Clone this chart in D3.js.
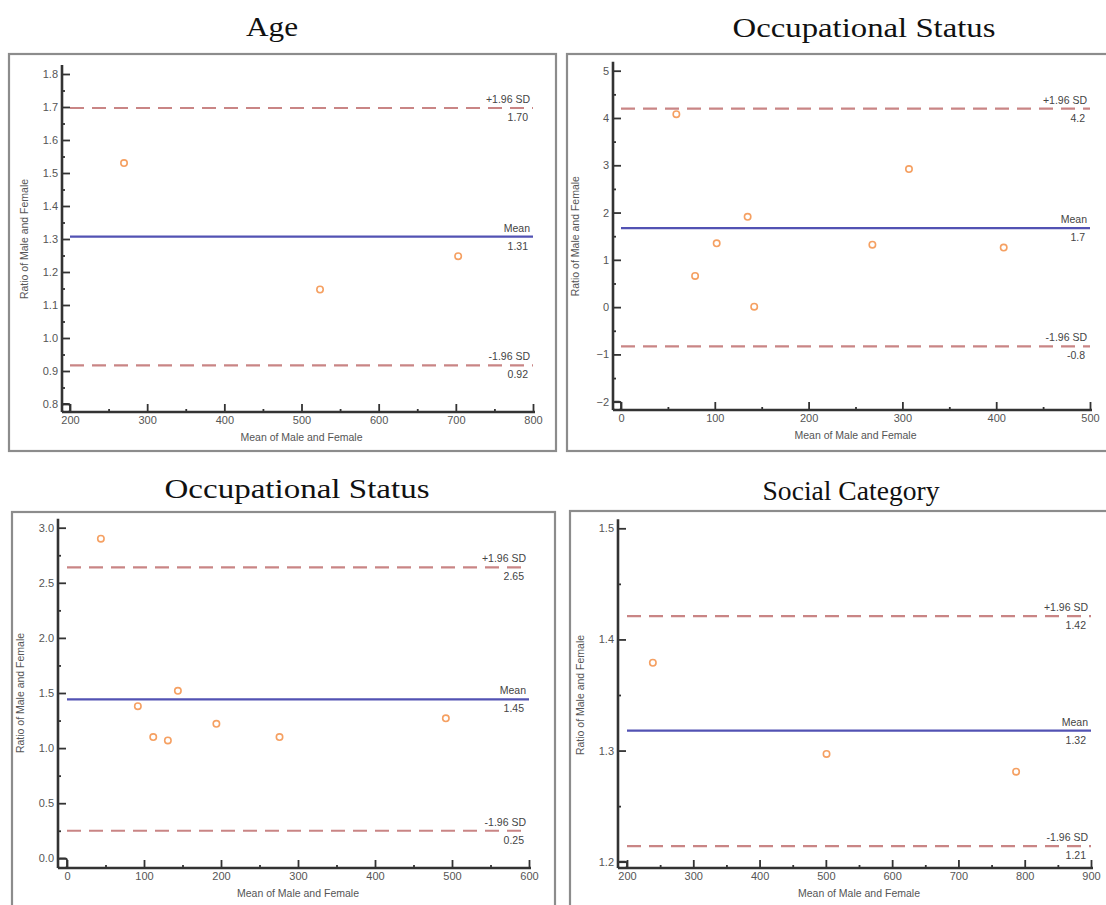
<!DOCTYPE html>
<html>
<head>
<meta charset="utf-8">
<script src="https://cdn.jsdelivr.net/npm/d3@7/dist/d3.min.js"></script>
<style>
body { margin: 0; background: #fff; }
svg text { font-family: "Liberation Sans", Arial, sans-serif; }
.ttl { font-family: "Liberation Serif", "Times New Roman", serif !important; fill: #111; }
.tick text { fill: #555; font-size: 11px; }
</style>
</head>
<body>
<svg id="chart" width="1106" height="905"></svg>
<script>
/************************** data **************************/
var titles = ["Age", "Occupational Status", "Occupational Status", "Social Category"];

var ageX = [270, 524, 703];
var ageY = [1.53, 1.147, 1.248];

var occAX = [59, 79, 102, 135, 142, 268, 307, 408];
var occAY = [4.08, 0.66, 1.35, 1.91, 0.01, 1.32, 2.92, 1.26];

var occBX = [44, 92, 112, 131, 144, 194, 276, 492];
var occBY = [2.90, 1.38, 1.10, 1.07, 1.52, 1.22, 1.10, 1.27];

var socX = [239, 501, 787];
var socY = [1.379, 1.297, 1.281];

var meanVals  = [1.307, 1.67, 1.443, 1.318];
var upperVals = [1.697, 4.2, 2.64, 1.421];
var lowerVals = [0.917, -0.83, 0.25, 1.214];
var meanLabels  = ["1.31", "1.7", "1.45", "1.32"];
var upperLabels = ["1.70", "4.2", "2.65", "1.42"];
var lowerLabels = ["0.92", "-0.8", "0.25", "1.21"];

var xTicks = [
  [200, 300, 400, 500, 600, 700, 800],
  [0, 100, 200, 300, 400, 500],
  [0, 100, 200, 300, 400, 500, 600],
  [200, 300, 400, 500, 600, 700, 800, 900]
];
var yTicks = [
  [0.8, 0.9, 1.0, 1.1, 1.2, 1.3, 1.4, 1.5, 1.6, 1.7, 1.8],
  [-2, -1, 0, 1, 2, 3, 4, 5],
  [0.0, 0.5, 1.0, 1.5, 2.0, 2.5, 3.0],
  [1.2, 1.3, 1.4, 1.5]
];
var yFormats = [".1f", "d", ".1f", ".1f"];

var xTitle = "Mean of Male and Female";
var yTitle = "Ratio of Male and Female";

/************************** layout **************************/
var layout = [
  { frame: [9, 54, 547, 397],   xr: [70, 533],  yr: [404, 74],     ax: 62,  ay: 412, tx: 272, ty: 36,  tw: 52 },
  { frame: [567, 54, 560, 397], xr: [621, 1090], yr: [401.7, 70.7], ax: 613, ay: 410, tx: 864, ty: 37,  tw: 263 },
  { frame: [12, 512, 543, 420], xr: [67, 529],  yr: [858.3, 527.7], ax: 58,  ay: 868, tx: 297, ty: 498, tw: 265 },
  { frame: [570, 511, 560, 420], xr: [627, 1091], yr: [861.7, 528.3], ax: 618, ay: 868, tx: 851, ty: 500, tw: 177 }
];

var seriesX = [ageX, occAX, occBX, socX];
var seriesY = [ageY, occAY, occBY, socY];

var svg = d3.select("#chart");

function mids(arr) {
  var out = [];
  for (var i = 0; i < arr.length - 1; i++) out.push((arr[i] + arr[i + 1]) / 2);
  return out;
}

layout.forEach(function(L, i) {
  var g = svg.append("g");
  var xt = xTicks[i], yt = yTicks[i];
  var x = d3.scaleLinear().domain([xt[0], xt[xt.length - 1]]).range(L.xr);
  var y = d3.scaleLinear().domain([yt[0], yt[yt.length - 1]]).range(L.yr);

  // frame
  g.append("rect")
    .attr("x", L.frame[0]).attr("y", L.frame[1])
    .attr("width", L.frame[2]).attr("height", L.frame[3])
    .attr("fill", "none").attr("stroke", "#8c8c8c").attr("stroke-width", 2.2);

  // title
  g.append("text").attr("class", "ttl")
    .attr("x", L.tx).attr("y", L.ty)
    .attr("text-anchor", "middle")
    .attr("font-size", 28)
    .attr("textLength", L.tw).attr("lengthAdjust", "spacingAndGlyphs")
    .text(titles[i]);

  // y axis (major + minor)
  g.append("g").attr("transform", "translate(" + L.ax + ",0)")
    .call(d3.axisLeft(y).tickValues(yt).tickSize(-8).tickPadding(4).tickFormat(d3.format(yFormats[i])));
  g.append("g").attr("transform", "translate(" + L.ax + ",0)")
    .call(d3.axisLeft(y).tickValues(mids(yt)).tickSize(-3).tickFormat(""));

  // x axis (major + minor)
  var xAx = g.append("g").attr("transform", "translate(0," + L.ay + ")")
    .call(d3.axisBottom(x).tickValues(xt).tickSize(-8).tickPadding(3).tickFormat(d3.format("d")));
  g.append("g").attr("transform", "translate(0," + L.ay + ")")
    .call(d3.axisBottom(x).tickValues(mids(xt)).tickSize(-3).tickFormat(""));

  g.selectAll(".domain").remove();
  g.selectAll(".tick line").attr("stroke", "#333").attr("stroke-width", 1.8);
  xAx.selectAll(".tick text").attr("dy", "0.85em");

  // axis lines
  g.append("line")
    .attr("x1", L.ax).attr("x2", L.ax)
    .attr("y1", L.yr[1] - 9).attr("y2", L.ay)
    .attr("stroke", "#333").attr("stroke-width", 2.6);
  g.append("line")
    .attr("x1", L.ax).attr("x2", L.xr[1] + 2)
    .attr("y1", L.ay).attr("y2", L.ay)
    .attr("stroke", "#333").attr("stroke-width", 2.6);
  // little corner box
  g.append("rect")
    .attr("x", L.ax).attr("y", L.yr[0])
    .attr("width", L.xr[0] - L.ax).attr("height", L.ay - L.yr[0])
    .attr("rx", 2)
    .attr("fill", "none").attr("stroke", "#333").attr("stroke-width", 1.8);

  // axis titles
  g.append("text")
    .attr("x", (L.xr[0] + L.xr[1]) / 2).attr("y", L.ay + 29)
    .attr("text-anchor", "middle").attr("font-size", 10.5).attr("fill", "#555")
    .text(xTitle);
  g.append("text")
    .attr("transform", "translate(" + (L.ax - 34) + "," + ((L.yr[0] + L.yr[1]) / 2) + ") rotate(-90)")
    .attr("text-anchor", "middle").attr("font-size", 10.5).attr("fill", "#555")
    .text(yTitle);

  // limit lines
  var lines = [
    { v: upperVals[i], name: "+1.96 SD", lab: upperLabels[i], col: "#c98585", dash: "14,8" },
    { v: meanVals[i],  name: "Mean",     lab: meanLabels[i],  col: "#5252b3", dash: null },
    { v: lowerVals[i], name: "-1.96 SD", lab: lowerLabels[i], col: "#c98585", dash: "14,8" }
  ];
  lines.forEach(function(l) {
    var ly = y(l.v);
    g.append("line")
      .attr("x1", L.xr[0]).attr("x2", L.xr[1])
      .attr("y1", ly).attr("y2", ly)
      .attr("stroke", l.col).attr("stroke-width", 2.2)
      .attr("stroke-dasharray", l.dash);
    g.append("text")
      .attr("x", L.xr[1] - 3).attr("y", ly - 5)
      .attr("text-anchor", "end").attr("font-size", 10.5).attr("fill", "#444")
      .text(l.name);
    g.append("text")
      .attr("x", L.xr[1] - 5).attr("y", ly + 13)
      .attr("text-anchor", "end").attr("font-size", 10.5).attr("fill", "#444")
      .text(l.lab);
  });

  // points
  g.selectAll("circle.pt")
    .data(d3.zip(seriesX[i], seriesY[i]))
    .join("circle")
    .attr("class", "pt")
    .attr("cx", function(d) { return x(d[0]); })
    .attr("cy", function(d) { return y(d[1]); })
    .attr("r", 3.2)
    .attr("fill", "#fff")
    .attr("stroke", "#f5a062")
    .attr("stroke-width", 1.6);
});
</script>
</body>
</html>
